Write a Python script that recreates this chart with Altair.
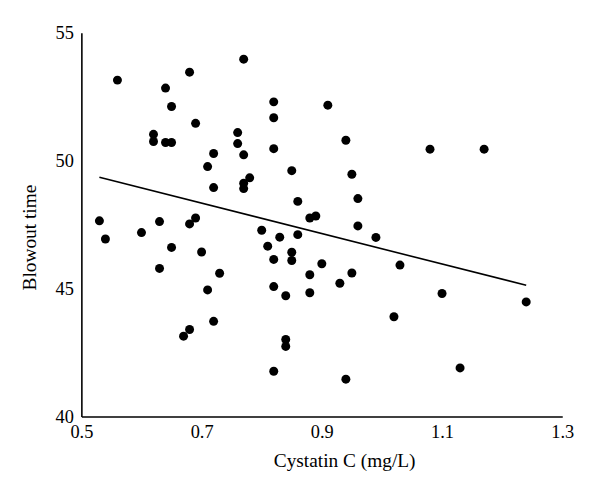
import altair as alt
import pandas as pd

cystatin = [0.56, 0.64, 0.68, 0.77, 0.65, 0.69, 0.82, 0.82, 0.62, 0.62,
            0.64, 0.65, 0.76, 0.76, 0.77, 0.82, 0.72, 0.71, 0.85, 0.72,
            0.77, 0.77, 0.78, 0.86, 0.53, 0.54, 0.60, 0.63, 0.68, 0.69,
            0.80, 0.83, 0.86, 0.81, 0.65, 0.70, 0.91, 0.94, 1.08, 1.17,
            0.95, 0.96, 0.88, 0.89, 0.96, 0.99, 0.63, 0.73, 0.71, 0.72,
            0.68, 0.67, 0.82, 0.85, 0.85, 0.82, 0.84, 0.84, 0.84, 0.82,
            0.90, 0.88, 0.88, 0.93, 0.95, 1.03, 1.10, 1.24, 1.02, 1.13,
            0.94]
blowout = [53.15, 52.84, 53.46, 53.97, 52.12, 51.46, 52.30, 51.68, 51.03, 50.75,
           50.71, 50.71, 51.10, 50.67, 50.23, 50.47, 50.28, 49.77, 49.61, 48.95,
           49.12, 48.91, 49.33, 48.41, 47.65, 46.94, 47.19, 47.62, 47.53, 47.76,
           47.28, 47.01, 47.11, 46.66, 46.61, 46.43, 52.17, 50.80, 50.45, 50.45,
           49.47, 48.52, 47.76, 47.84, 47.45, 47.00, 45.79, 45.60, 44.95, 43.72,
           43.40, 43.14, 46.14, 46.42, 46.10, 45.08, 44.72, 43.01, 42.74, 41.77,
           45.97, 45.54, 44.84, 45.21, 45.61, 45.92, 44.81, 44.48, 43.90, 41.90,
           41.46]

fit_x = [0.53, 1.24]
fit_y = [49.35, 45.13]

x_ticks = [0.5, 0.7, 0.9, 1.1, 1.3]
y_ticks = [40, 45, 50, 55]

pts = pd.DataFrame({"x": cystatin, "y": blowout})
fit = pd.DataFrame({"x": fit_x, "y": fit_y})

FONT = "Liberation Serif"

xscale = alt.Scale(domain=[0.5, 1.3], nice=False, zero=False)
yscale = alt.Scale(domain=[40, 55], nice=False, zero=False)

xaxis = alt.Axis(values=x_ticks, format=".1f", title="Cystatin C (mg/L)",
                 grid=False, ticks=False, domainColor="black", domainWidth=1.6,
                 labelFont=FONT, labelFontSize=18.5, labelColor="black",
                 labelPadding=6, labelFlush=False,
                 titleFont=FONT, titleFontSize=19.5, titleFontWeight="normal",
                 titleColor="black", titleX=265, titleY=44,
                 titleAlign="center", titleBaseline="middle")
yaxis = alt.Axis(values=y_ticks, title="Blowout time",
                 grid=False, ticks=False, domainColor="black", domainWidth=1.6,
                 labelFont=FONT, labelFontSize=18.5, labelColor="black",
                 labelPadding=8, labelFlush=False,
                 titleFont=FONT, titleFontSize=19.5, titleFontWeight="normal",
                 titleColor="black", titleX=-52, titleY=206, titleAngle=270,
                 titleAlign="center", titleBaseline="middle")

points = alt.Chart(pts).mark_circle(size=82, color="black", opacity=1).encode(
    x=alt.X("x:Q", scale=xscale, axis=xaxis),
    y=alt.Y("y:Q", scale=yscale, axis=yaxis),
)

line = alt.Chart(fit).mark_line(color="black", strokeWidth=1.6).encode(
    x=alt.X("x:Q", scale=xscale),
    y=alt.Y("y:Q", scale=yscale),
)

chart = (points + line).properties(
    width=485, height=387,
    background="white",
    autosize=alt.AutoSizeParams(type="none"),
    padding={"left": 74, "top": 23, "right": 30, "bottom": 60},
).configure_view(strokeWidth=0, stroke="transparent")

chart.save("out.html", embed_options={"renderer": "svg", "actions": False})
